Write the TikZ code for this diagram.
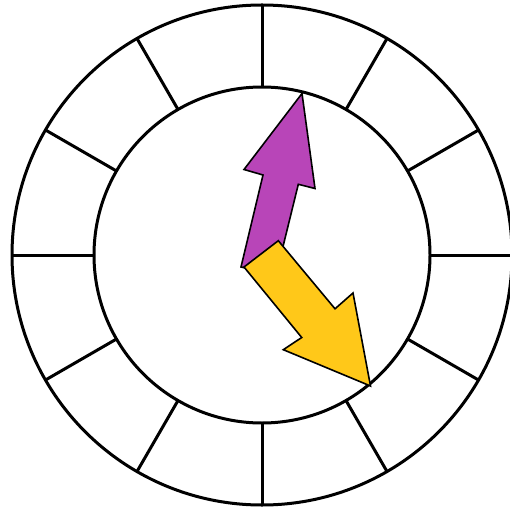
\documentclass[tikz,border=0pt]{standalone}
\usetikzlibrary{calc}
\definecolor{handpurple}{RGB}{184,69,184}
\definecolor{handyellow}{RGB}{255,200,25}
\tikzset{
  ring/.style={draw=black, line width=3pt},
  tick/.style={draw=black, line width=3pt},
  hand/.style={draw=black, line width=1.6pt, line join=miter}
}
\begin{document}
\begin{tikzpicture}[x=1pt,y=-1pt]
\useasboundingbox (0,0) rectangle (509,510);
\coordinate (c) at (262,255);
\foreach \a in {0,30,...,330}{
  \draw[tick] ($(c)+(\a:168)$) -- ($(c)+(\a:250)$);
}
\draw[ring] (c) circle[radius=250];
\draw[ring] (c) circle[radius=168];
% purple hand
\draw[hand, fill=handpurple] (241,267) -- (263,175) -- (244,169.5) -- (302,93.5) -- (315,188.5) -- (298.3,184.3) -- (276,275) -- cycle;
% yellow hand
\draw[hand, fill=handyellow] (244,267) -- (278.3,240.7) -- (335,308.8) -- (353,293) -- (370.5,386) -- (283.3,349.7) -- (301.7,337.5) -- cycle;
\end{tikzpicture}
\end{document}
